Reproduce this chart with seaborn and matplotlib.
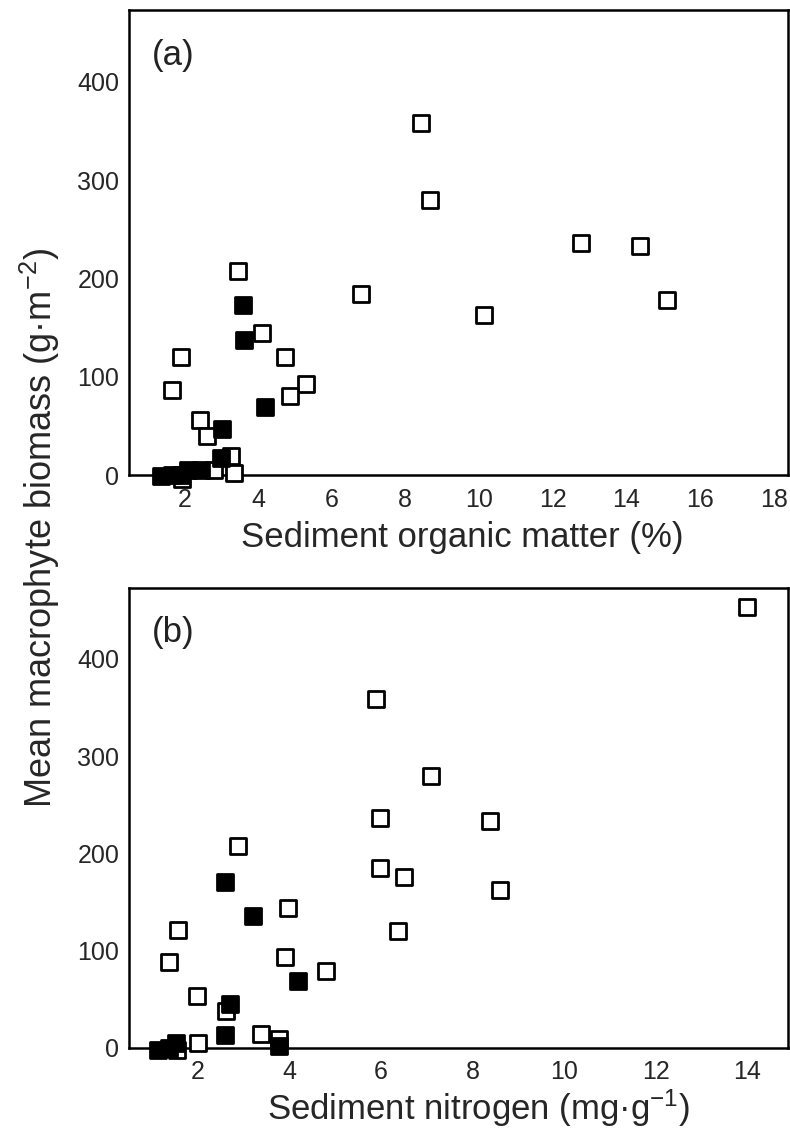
import matplotlib
matplotlib.use("Agg")
import matplotlib.pyplot as plt
from matplotlib.ticker import MultipleLocator
import seaborn as sns

# panel (a): sediment organic matter (%) vs biomass
om_open_x = [8.43, 8.68, 12.78, 14.37, 3.46, 6.79, 15.1, 10.14, 4.11, 1.9,
             4.74, 1.68, 5.3, 4.86, 2.42, 2.62, 3.26, 3.35, 2.8, 1.95]
om_open_y = [358, 280, 236, 233, 208, 184, 178, 163, 144, 120,
             120, 87, 93, 80, 56, 40, 19, 2, 5, -4]
om_fill_x = [3.6, 3.63, 4.2, 3.02, 3.0, 1.38, 1.68, 2.1, 2.45, 1.92]
om_fill_y = [173, 137, 69, 47, 17, -1, 0, 5, 5, 0]

# panel (b): sediment nitrogen (mg/g) vs biomass
n_open_x = [14.0, 5.9, 7.09, 5.99, 8.38, 2.88, 5.99, 6.5, 8.59, 3.97, 1.58,
            6.37, 1.38, 3.91, 4.8, 1.99, 2.62, 3.39, 3.78, 1.55, 2.0]
n_open_y = [453, 359, 280, 236, 233, 208, 185, 176, 162, 144, 121,
            120, 88, 94, 79, 53, 38, 14, 9, -2, 5]
n_fill_x = [2.6, 3.2, 4.19, 2.7, 2.6, 3.77, 1.14, 1.52, 1.38]
n_fill_y = [171, 136, 69, 45, 13, 2, -2, 5, 0]

sns.set_style("white")
plt.rcParams['font.family'] = ['Liberation Sans', 'DejaVu Sans']
plt.rcParams['mathtext.fontset'] = 'custom'
plt.rcParams['mathtext.rm'] = 'Liberation Sans'
plt.rcParams['mathtext.it'] = 'Liberation Sans:italic'

fig = plt.figure(figsize=(7.9, 11.3), dpi=100)
ax1 = fig.add_axes([0.1633, 0.5796, 0.8348, 0.4115])
ax2 = fig.add_axes([0.1633, 0.0726, 0.8348, 0.4071])

panels = [
    (ax1, om_open_x, om_open_y, om_fill_x, om_fill_y, (0.5, 18.4),
     "Sediment organic matter (%)", "(a)", (0.505, -0.098)),
    (ax2, n_open_x, n_open_y, n_fill_x, n_fill_y, (0.5, 14.9),
     "Sediment nitrogen (mg\u00b7g$^{-1}$)", "(b)", (0.53, -0.086)),
]

for ax, ox, oy, fx, fy, xlim, xlab, tag, labxy in panels:
    sns.scatterplot(x=ox, y=oy, marker='s', s=145, color='white',
                    edgecolor='black', linewidth=2.0, ax=ax, clip_on=False, zorder=3)
    sns.scatterplot(x=fx, y=fy, marker='s', s=145, color='black',
                    edgecolor='black', linewidth=2.0, ax=ax, clip_on=False, zorder=4)
    ax.set_xlim(*xlim)
    ax.set_ylim(0, 473)
    ax.xaxis.set_major_locator(MultipleLocator(2))
    ax.xaxis.set_minor_locator(MultipleLocator(1))
    ax.yaxis.set_major_locator(MultipleLocator(100))
    ax.yaxis.set_minor_locator(MultipleLocator(50))
    ax.tick_params(which='both', direction='in', top=False, right=False,
                   width=1.5, color='black', labelsize=18, labelcolor='#262626')
    ax.tick_params(axis='x', which='major', length=6.5, pad=9)
    ax.tick_params(axis='x', which='minor', length=4)
    ax.tick_params(axis='y', which='major', length=6.5, pad=7)
    ax.tick_params(axis='y', which='minor', length=4)
    # the 0 on x is not labelled
    ax.set_xticks([t for t in ax.get_xticks() if t >= 2 and t <= xlim[1]])
    for sp in ax.spines.values():
        sp.set_linewidth(1.8)
        sp.set_color('black')
    ax.set_xlabel(xlab, fontsize=25)
    ax.xaxis.set_label_coords(*labxy)
    ax.xaxis.label.set_va('top')
    ax.text(0.067, 0.903, tag, transform=ax.transAxes, fontsize=25,
            ha='center', va='center', color='#222222')

fig.text(0.051, 0.533, "Mean macrophyte biomass (g\u00b7m$^{-2}$)", rotation=90,
         ha='center', va='center', fontsize=26)

fig.savefig("out.png", dpi=100)
